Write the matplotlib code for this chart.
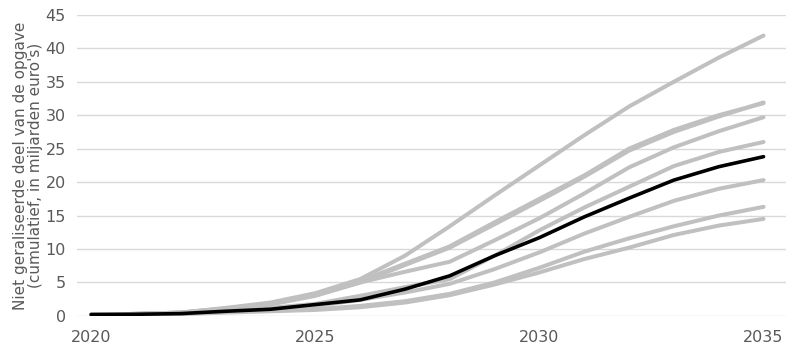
import matplotlib.pyplot as plt

years = list(range(2020, 2036))

# grijze scenario's
scenario_top = [0.2, 0.3, 0.5, 1.2, 2.0, 3.4, 5.5, 9.0, 13.4, 18.0, 22.5, 27.0, 31.3, 35.0, 38.6, 41.9]
scenario_a = [0.2, 0.3, 0.5, 1.1, 1.9, 3.2, 5.2, 7.8, 10.4, 14.0, 17.5, 21.0, 25.0, 27.8, 30.0, 31.8]
scenario_b = [0.2, 0.3, 0.5, 1.1, 1.8, 3.1, 5.0, 7.6, 10.2, 13.7, 17.2, 20.8, 24.7, 27.5, 29.8, 31.9]
scenario_c = [0.2, 0.3, 0.5, 1.0, 1.7, 3.0, 5.0, 6.6, 8.1, 11.3, 14.6, 18.3, 22.2, 25.2, 27.6, 29.7]
scenario_d = [0.2, 0.3, 0.4, 0.8, 1.2, 1.8, 3.0, 4.3, 5.5, 9.0, 12.8, 16.2, 19.3, 22.4, 24.5, 26.0]
scenario_e = [0.2, 0.3, 0.4, 0.7, 1.0, 1.5, 2.4, 3.5, 4.8, 7.0, 9.5, 12.3, 14.8, 17.2, 19.0, 20.3]
scenario_f = [0.2, 0.2, 0.3, 0.6, 0.8, 1.0, 1.5, 2.2, 3.3, 5.0, 7.2, 9.6, 11.6, 13.4, 15.0, 16.3]
scenario_g = [0.2, 0.2, 0.3, 0.5, 0.7, 0.9, 1.3, 2.0, 3.1, 4.7, 6.5, 8.5, 10.2, 12.1, 13.5, 14.5]
grey_series = [scenario_top, scenario_a, scenario_b, scenario_c,
               scenario_d, scenario_e, scenario_f, scenario_g]

# zwarte lijn
central = [0.2, 0.25, 0.35, 0.7, 1.0, 1.7, 2.4, 4.0, 6.0, 9.0, 11.7, 14.8, 17.6, 20.3, 22.3, 23.8]

ylabel = "Niet geraliseerde deel van de opgave\n(cumulatief, in miljarden euro's)"
text_color = '#595959'

fig = plt.figure(figsize=(8, 3.53), dpi=100)
ax = fig.add_axes([0.096, 0.105, 0.887, 0.853])

for s in grey_series:
    ax.plot(years, s, color='#c0c0c0', lw=2.9, solid_capstyle='round', zorder=2)
ax.plot(years, central, color='black', lw=2.6, solid_capstyle='round', zorder=3)

ax.set_xlim(2019.68, 2035.51)
ax.set_ylim(0, 45)
ax.set_xticks([2020, 2025, 2030, 2035])
ax.set_yticks(range(0, 46, 5))
ax.grid(axis='y', color='#d9d9d9', lw=1)
ax.set_axisbelow(True)
for sp in ax.spines.values():
    sp.set_visible(False)
ax.tick_params(length=0, labelsize=11.5, labelcolor=text_color)
ax.tick_params(axis='y', pad=8)
ax.tick_params(axis='x', pad=10)
ax.set_ylabel(ylabel, fontsize=11, color=text_color, labelpad=2, linespacing=1.0)

fig.savefig('out.png', dpi=100)
